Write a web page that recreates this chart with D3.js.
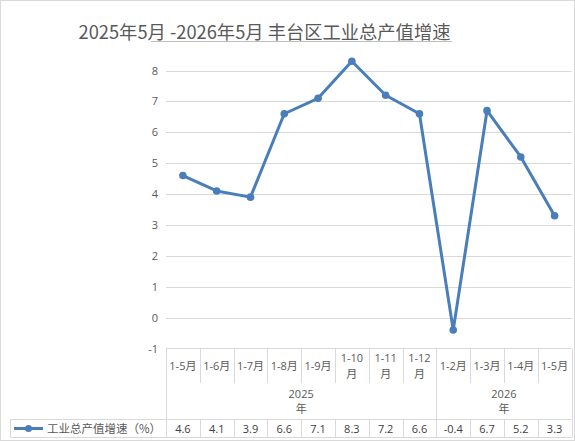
<!DOCTYPE html>
<html><head><meta charset="utf-8">
<script src="https://cdn.jsdelivr.net/npm/d3@7"></script>
<style>
body{margin:0;background:#fff;}
svg{display:block;font-family:"Open Sans","Noto Sans CJK SC",sans-serif;}
</style></head>
<body><svg id="c" width="575" height="441"></svg>
<script>
const categories = ["1-5月","1-6月","1-7月","1-8月","1-9月","1-10月","1-11月","1-12月","1-2月","1-3月","1-4月","1-5月"];
const years = [{label:"2025", n:8},{label:"2026", n:4}];
const values = [4.6,4.1,3.9,6.6,7.1,8.3,7.2,6.6,-0.4,6.7,5.2,3.3];
const yTicks = [-1,0,1,2,3,4,5,6,7,8];
const seriesName = "工业总产值增速（%）";
const title = "2025年5月 -2026年5月 丰台区工业总产值增速";

(function(){
const svg = d3.select("#c");
const W=575,H=441;
const pL=166, pR=571.5, pT=70.5, pB=348.5;
const color="#4A7EBB", grid="#D9D9D9", textC="#595959";
const hy = s => String(s).replace("\u2212","-");

svg.append("rect").attr("x",0.5).attr("y",0.5).attr("width",W-1).attr("height",H-1)
  .attr("fill","#fff").attr("stroke","#D9D9D9");

// title
svg.append("text").attr("x",264.5).attr("y",39).attr("text-anchor","middle")
  .attr("font-size",18.3).attr("fill",textC).attr("font-family","'Noto Sans CJK SC',sans-serif")
  .text(title);
svg.append("line").attr("x1",151).attr("x2",452).attr("y1",41.5).attr("y2",41.5)
  .attr("stroke","#BFBFBF").attr("stroke-width",1);

const x = d3.scaleBand().domain(d3.range(categories.length)).range([pL,pR]);
const y = d3.scaleLinear().domain([-1,8]).range([pB,pT]);
const xe = i => Math.round(i===categories.length?pR:x(i))+0.5;

// gridlines
svg.append("g").selectAll("line").data(yTicks.filter(d=>d>-1)).join("line")
  .attr("x1",pL).attr("x2",pR).attr("y1",d=>Math.round(y(d))+0.5).attr("y2",d=>Math.round(y(d))+0.5)
  .attr("stroke",grid).attr("stroke-width",1);

// y axis labels
const yAxis = d3.axisLeft(y).tickValues(yTicks).tickSize(0).tickPadding(0).tickFormat(d=>hy(d3.format("d")(d)));
const ya = svg.append("g").attr("transform",`translate(${pL-8},0)`).call(yAxis);
ya.select(".domain").remove();
ya.selectAll("text").attr("font-size",11).attr("fill",textC).attr("font-family","'Open Sans',sans-serif");

// table
const rowCat=[349,383], rowYear=[383,419.5], rowData=[419.5,437.5];
const tg = svg.append("g").attr("stroke","#D9D9D9").attr("stroke-width",1).attr("fill","none");
tg.append("line").attr("x1",pL).attr("x2",pR).attr("y1",348.5).attr("y2",348.5);
tg.selectAll(".cv").data(d3.range(categories.length+1)).join("line")
  .attr("x1",xe).attr("x2",xe).attr("y1",rowCat[0]).attr("y2",rowCat[1]);
let acc=0; const yb=[0];
years.forEach(g=>{acc+=g.n; yb.push(acc);});
tg.selectAll(".yv").data(yb).join("line")
  .attr("x1",xe).attr("x2",xe).attr("y1",rowYear[0]).attr("y2",rowYear[1]);
tg.append("line").attr("x1",10).attr("x2",pR).attr("y1",419.5).attr("y2",419.5);
tg.append("line").attr("x1",10).attr("x2",pR).attr("y1",437.5).attr("y2",437.5);
tg.append("line").attr("x1",10.5).attr("x2",10.5).attr("y1",419.5).attr("y2",437.5);
tg.selectAll(".dv").data(d3.range(categories.length+1)).join("line")
  .attr("x1",xe).attr("x2",xe).attr("y1",rowData[0]).attr("y2",rowData[1]);

// category labels
const cg = svg.append("g").attr("font-size",11).attr("fill",textC).attr("text-anchor","middle");
categories.forEach((c,i)=>{
  const cx = x(i)+x.bandwidth()/2;
  const t = cg.append("text").attr("x",cx);
  if(c.length>4){
    t.append("tspan").attr("x",cx).attr("y",362).text(c.replace("月",""));
    t.append("tspan").attr("x",cx).attr("y",378).text("月");
  } else {
    t.attr("y",370).text(c);
  }
});
// year labels
acc=0;
years.forEach(g=>{
  const cx=(x(acc)+ (acc+g.n===categories.length?pR:x(acc+g.n)))/2;
  const t=cg.append("text").attr("x",cx);
  t.append("tspan").attr("x",cx).attr("y",398).text(g.label);
  t.append("tspan").attr("x",cx).attr("y",413).text("年");
  acc+=g.n;
});
// data values
const dg = svg.append("g").attr("font-size",11).attr("fill","#404040").attr("text-anchor","middle");
values.forEach((v,i)=>{
  dg.append("text").attr("x",x(i)+x.bandwidth()/2).attr("y",432.5).text(hy(d3.format(".1f")(v)));
});
// legend
svg.append("line").attr("x1",14).attr("x2",43).attr("y1",428.5).attr("y2",428.5).attr("stroke",color).attr("stroke-width",3);
svg.append("circle").attr("cx",28.5).attr("cy",428.5).attr("r",3.5).attr("fill",color);
svg.append("text").attr("x",47).attr("y",432.5).attr("font-size",11.5).attr("fill",textC)
  .attr("font-family","'Noto Sans CJK SC',sans-serif").text(seriesName);

// line
const line = d3.line().x((d,i)=>x(i)+x.bandwidth()/2).y(d=>y(d));
svg.append("path").datum(values).attr("d",line).attr("fill","none")
  .attr("stroke",color).attr("stroke-width",3).attr("stroke-linejoin","round");
svg.append("g").selectAll("circle").data(values).join("circle")
  .attr("cx",(d,i)=>x(i)+x.bandwidth()/2).attr("cy",d=>y(d)).attr("r",3.8).attr("fill",color);
})();
</script></body></html>
